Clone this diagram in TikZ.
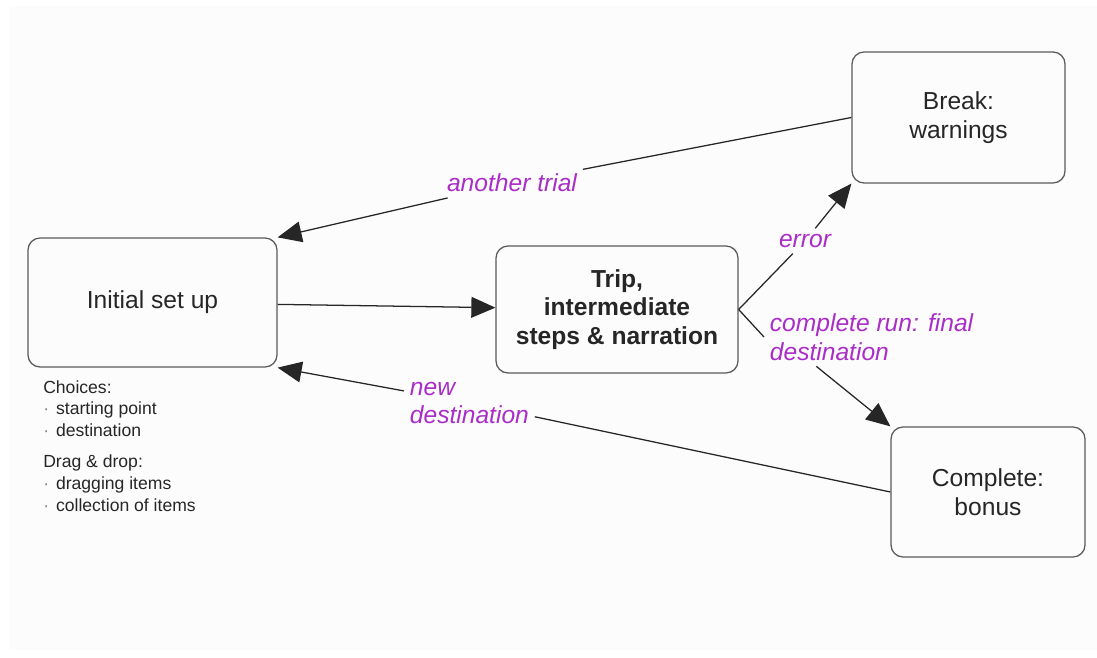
\documentclass[tikz,border=0pt]{standalone}
\usepackage{fontspec}
\setmainfont{Liberation Sans}
\usetikzlibrary{arrows.meta}
\definecolor{labelpurple}{RGB}{170,45,200}
\definecolor{boxgray}{RGB}{90,90,90}
\definecolor{paper}{RGB}{252,252,252}
\tikzset{
    stage/.style={draw=boxgray, line width=0.9pt, rounded corners=0.3cm, align=center,
        font=\fontsize{17.5}{20.5}\selectfont, text=black!85, inner sep=0pt},
    edgelabel/.style={text=labelpurple, font=\fontsize{17.5}{20.5}\selectfont\itshape, inner sep=4pt},
    flow/.style={draw=black!85, line width=0.9pt},
    flowarrow/.style={flow, -{Triangle[length=0.6cm,width=0.52cm]}},
    note/.style={align=left, font=\fontsize{12.5}{15.6}\selectfont, text=black!85, inner sep=0pt, anchor=north west},
}
\newcommand{\dotitem}{\makebox[0.32cm][l]{\textcolor{gray}{\textperiodcentered}}}
\begin{document}
\begin{tikzpicture}
    \useasboundingbox (0,0) rectangle (27.425,16.425);
    \fill[white] (0,0) rectangle (27.425,16.425);
    \fill[paper] (0.225,0.175) rectangle (27.425,16.275);

    \node[stage, minimum width=6.225cm, minimum height=3.225cm] (setup) at (3.8125,8.8625) {Initial set up};
    \node[stage, minimum width=6.05cm, minimum height=3.175cm, font=\fontsize{17.5}{20.5}\selectfont\bfseries] (trip) at (15.425,8.6875) {Trip,\\intermediate\\steps \& narration};
    \node[stage, minimum width=5.325cm, minimum height=3.275cm] (break) at (23.9625,13.4875) {Break:\\warnings};
    \node[stage, minimum width=4.85cm, minimum height=3.25cm] (bonus) at (24.7,4.125) {Complete:\\bonus};

    \node[edgelabel] (trial) at (12.8,11.85) {another trial};
    \node[edgelabel] (error) at (20.125,10.4) {error};
    \node[edgelabel, anchor=west, align=left] (final) at (19.1,8.0) {complete run: final\\destination};
    \node[edgelabel, anchor=west, align=left] (newdest) at (10.1,6.35) {new\\destination};

    \node[note] (notes) at (1.075,6.925) {Choices:\\\dotitem starting point\\\dotitem destination\\[6.4pt]Drag \& drop:\\\dotitem dragging items\\\dotitem collection of items};

    \draw[flowarrow] (setup) -- (trip);
    \draw[flow] (break.west) -- (trial);
    \draw[flowarrow] (trial) -- (setup.north east);
    \draw[flow] (trip.east) -- (error);
    \draw[flowarrow] (error) -- (break.south west);
    \draw[flow] (trip.east) -- (final.west);
    \draw[flowarrow] (final.208) -- (bonus.north west);
    \draw[flow] (bonus.west) -- (newdest);
    \draw[flowarrow] (newdest) -- (setup.south east);
\end{tikzpicture}
\end{document}
